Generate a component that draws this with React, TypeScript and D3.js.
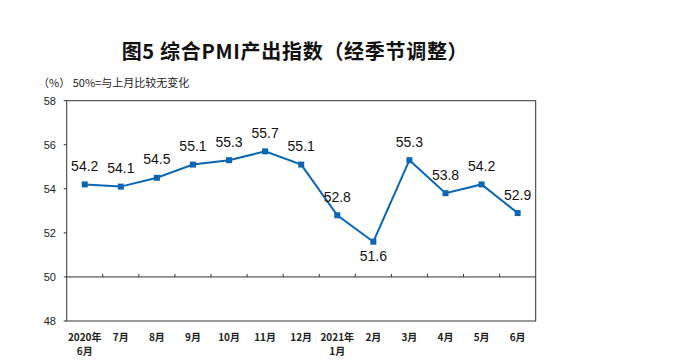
import React from "react";
import * as d3 from "d3";

const categories = ["2020年|6月", "7月", "8月", "9月", "10月", "11月", "12月", "2021年|1月", "2月", "3月", "4月", "5月", "6月"];
const values = [54.2, 54.1, 54.5, 55.1, 55.3, 55.7, 55.1, 52.8, 51.6, 55.3, 53.8, 54.2, 52.9];
const yTicks = [48, 50, 52, 54, 56, 58];
const belowLabels = [8];

export default function App() {
  const W = 694, H = 364;
  const left = 66.7, right = 535.7, top = 100.7, bottom = 321;
  const x = d3.scaleBand<string>().domain(categories).range([left, right]);
  const y = d3.scaleLinear().domain([48, 58]).range([bottom, top]);
  const cx = (i: number) => (x(categories[i]) as number) + x.bandwidth() / 2;
  const line = d3.line<number>().x((_, i) => cx(i)).y((d) => y(d));
  const blue = "#0a66b4";
  const axisColor = "#333";
  const sans = "'Liberation Sans', Arial, sans-serif";
  const cjk = "'Noto Sans CJK SC', 'Noto Sans', sans-serif";
  return (
    <svg width={W} height={H} style={{ position: "absolute", left: 0, top: 0, background: "#fff" }}>
      <text x={295} y={58.5} textAnchor="middle" fontFamily={cjk} fontWeight="bold" fontSize={20} letterSpacing={0.7} fill="#111">
        图5 综合PMI产出指数（经季节调整）
      </text>
      <text x={38} y={86.5} fontFamily={cjk} fontSize={11} fill="#222">（%）</text>
      <text x={72.7} y={86.5} fontFamily={cjk} fontSize={11} fill="#222">50%=与上月比较无变化</text>
      <rect x={left} y={top} width={right - left} height={bottom - top} fill="none" stroke={axisColor} strokeWidth={1} />
      <line x1={left} x2={right} y1={y(50)} y2={y(50)} stroke={axisColor} strokeWidth={1} />
      {categories.slice(1).map((c, i) => {
        const xx = x(c) as number;
        return <line key={c + i} x1={xx} x2={xx} y1={y(50)} y2={y(50) - 3} stroke={axisColor} strokeWidth={1} />;
      })}
      {yTicks.map((t) => (
        <g key={t}>
          <line x1={left - 3} x2={left} y1={y(t)} y2={y(t)} stroke={axisColor} strokeWidth={1} />
          <text x={56} y={y(t) + 4} textAnchor="end" fontFamily={sans} fontSize={11} fill="#222">{t}</text>
        </g>
      ))}
      {categories.map((c, i) => {
        const parts = c.split("|");
        return (
          <text key={c + i} x={cx(i)} y={341} textAnchor="middle" fontFamily={cjk} fontSize={10} fontWeight="bold" fill="#222">
            {parts.map((p, j) => (
              <tspan key={j} x={cx(i)} dy={j === 0 ? 0 : 13.5}>{p}</tspan>
            ))}
          </text>
        );
      })}
      <path d={line(values) as string} fill="none" stroke={blue} strokeWidth={2} />
      {values.map((v, i) => (
        <rect key={i} x={cx(i) - 3} y={y(v) - 3} width={6} height={6} fill={blue} />
      ))}
      {values.map((v, i) => {
        const below = belowLabels.includes(i);
        return (
          <text key={"l" + i} x={cx(i)} y={below ? y(v) + 19 : y(v) - 13.5} textAnchor="middle" fontFamily={sans} fontSize={14} fill="#111">
            {v.toFixed(1)}
          </text>
        );
      })}
    </svg>
  );
}
